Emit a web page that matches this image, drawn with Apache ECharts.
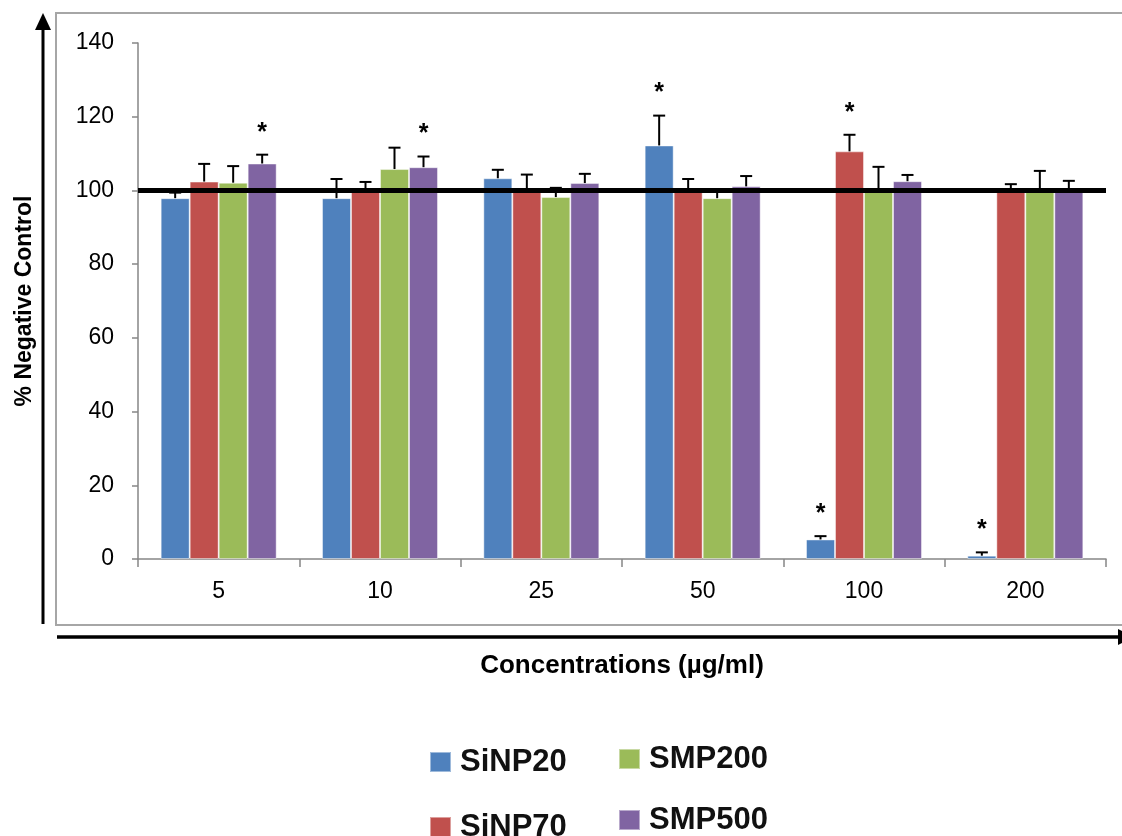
<!DOCTYPE html>
<html>
<head>
<meta charset="utf-8">
<script src="https://cdn.jsdelivr.net/npm/echarts@6/dist/echarts.min.js"></script>
<style>
  html, body { margin: 0; padding: 0; background: #fff; }
  #chart { width: 1122px; height: 836px; }
</style>
</head>
<body>
<div id="chart"></div>
<script>
// Concentrations tested (µg/ml)
const categories = ['5', '10', '25', '50', '100', '200'];
const seriesNames = ['SiNP20', 'SiNP70', 'SMP200', 'SMP500'];

// Mean response, % of negative control
const SiNP20 = [97.9, 97.9, 103.3, 112.2, 5.3, 0.9];
const SiNP70 = [102.4, 100.1, 100.3, 100.0, 110.6, 100.0];
const SMP200 = [102.1, 105.8, 98.2, 97.9, 100.1, 100.0];
const SMP500 = [107.3, 106.3, 102.0, 101.1, 102.5, 100.0];

// Standard deviation (upper whisker only)
const SiNP20Err = [1.5, 5.2, 2.3, 8.1, 0.9, 0.9];
const SiNP70Err = [4.8, 2.2, 4.0, 3.1, 4.5, 1.7];
const SMP200Err = [4.5, 5.8, 2.5, 2.0, 6.3, 5.3];
const SMP500Err = [2.4, 2.9, 2.5, 2.8, 1.7, 2.6];

// Statistically significant differences (marked with *)
const SiNP20Sig = [0, 0, 0, 1, 1, 1];
const SiNP70Sig = [0, 0, 0, 0, 1, 0];
const SMP200Sig = [0, 0, 0, 0, 0, 0];
const SMP500Sig = [1, 1, 0, 0, 0, 0];

// Y axis ticks
const yTicks = { min: 0, max: 140, interval: 20 };
const controlLevel = 100;

const values = [SiNP20, SiNP70, SMP200, SMP500];
const errors = [SiNP20Err, SiNP70Err, SMP200Err, SMP500Err];
const signif = [SiNP20Sig, SiNP70Sig, SMP200Sig, SMP500Sig];
const colors = ['#4F81BD', '#C0504D', '#9BBB59', '#8064A2'];

const BAR_W = 29;
const FONT = "'Liberation Sans', Arial, sans-serif";

const chart = echarts.init(document.getElementById('chart'), null, { renderer: 'canvas' });

const barSeries = seriesNames.map((name, i) => ({
  name: name,
  type: 'bar',
  data: values[i],
  barWidth: BAR_W,
  barGap: '0%',
  itemStyle: { color: colors[i], borderColor: 'rgba(255,255,255,0.45)', borderWidth: 1 },
  emphasis: { disabled: true },
  z: 2
}));

// Whiskers, caps and significance stars
const errSeries = seriesNames.map((name, i) => ({
  name: name + ' SD',
  type: 'custom',
  z: 4,
  silent: true,
  encode: { x: 0, y: 1 },
  data: categories.map((c, j) => [j, values[i][j], errors[i][j], signif[i][j]]),
  renderItem: function (params, api) {
    const cat = api.value(0);
    const x = api.coord([cat, 0])[0] + (i - 1.5) * BAR_W;
    const yBase = api.coord([cat, api.value(1)])[1];
    const yTop = api.coord([cat, api.value(1) + api.value(2)])[1];
    const children = [
      { type: 'line', shape: { x1: x, y1: yBase, x2: x, y2: yTop }, style: { stroke: '#000', lineWidth: 2 } },
      { type: 'line', shape: { x1: x - 6, y1: yTop, x2: x + 6, y2: yTop }, style: { stroke: '#000', lineWidth: 2 } }
    ];
    if (api.value(3)) {
      children.push({
        type: 'text', x: x, y: yTop - 22,
        style: { text: '*', fill: '#000', font: 'bold 25px ' + FONT, align: 'center', verticalAlign: 'middle' }
      });
    }
    return { type: 'group', children: children };
  },
  markLine: i === 3 ? {
    silent: true,
    symbol: ['none', 'none'],
    label: { show: false },
    lineStyle: { color: '#000', width: 5, type: 'solid' },
    data: [{ yAxis: controlLevel }],
    animation: false
  } : undefined
}));

// One legend block per entry so they sit in a 2 x 2 arrangement
const legendPos = [
  { left: 429, top: 746 },
  { left: 429, top: 811 },
  { left: 618, top: 743 },
  { left: 618, top: 804 }
];
const legends = seriesNames.map((name, i) => ({
  data: [name],
  left: legendPos[i].left,
  top: legendPos[i].top,
  orient: 'horizontal',
  padding: 0,
  icon: 'rect',
  itemWidth: 21,
  itemHeight: 20,
  selectedMode: false,
  textStyle: { fontFamily: FONT, fontSize: 31, fontWeight: 'bold', color: '#111', lineHeight: 32, padding: [0, 0, 0, 4] }
}));

const option = {
  animation: false,
  backgroundColor: '#fff',
  color: colors,
  textStyle: { fontFamily: FONT },
  legend: legends,
  grid: { left: 138, right: 16, top: 43, bottom: 277, containLabel: false },
  xAxis: {
    type: 'category',
    data: categories,
    name: 'Concentrations (µg/ml)',
    nameLocation: 'middle',
    nameGap: 94,
    nameTextStyle: { fontFamily: FONT, fontSize: 26, fontWeight: 'bold', color: '#000', verticalAlign: 'top' },
    axisLine: { lineStyle: { color: '#868686', width: 1.5 } },
    axisTick: { show: true, length: 8, alignWithLabel: false, lineStyle: { color: '#868686', width: 1.5 } },
    axisLabel: { fontFamily: FONT, fontSize: 23, color: '#000', margin: 21 },
    splitLine: { show: false }
  },
  yAxis: {
    type: 'value',
    min: yTicks.min,
    max: yTicks.max,
    interval: yTicks.interval,
    name: '% Negative Control',
    nameLocation: 'middle',
    nameGap: 102,
    nameRotate: 90,
    nameTextStyle: { fontFamily: FONT, fontSize: 23, fontWeight: 'bold', color: '#000' },
    axisLine: { show: true, lineStyle: { color: '#868686', width: 1.5 } },
    axisTick: { show: true, length: 6, lineStyle: { color: '#868686', width: 1.5 } },
    axisLabel: { fontFamily: FONT, fontSize: 23, color: '#000', margin: 24 },
    splitLine: { show: false }
  },
  graphic: [
    // plot frame
    { type: 'rect', z: -10, shape: { x: 56, y: 13, width: 1090, height: 612 },
      style: { fill: 'none', stroke: '#a6a6a6', lineWidth: 2 } },
    // vertical arrow
    { type: 'line', shape: { x1: 43, y1: 624, x2: 43, y2: 26 }, style: { stroke: '#000', lineWidth: 3 } },
    { type: 'polygon', shape: { points: [[35, 30], [51, 30], [43, 13]] }, style: { fill: '#000' } },
    // horizontal arrow
    { type: 'line', shape: { x1: 57, y1: 637, x2: 1120, y2: 637 }, style: { stroke: '#000', lineWidth: 3.5 } },
    { type: 'polygon', shape: { points: [[1118, 629], [1118, 645], [1134, 637]] }, style: { fill: '#000' } }
  ],
  series: barSeries.concat(errSeries)
};

chart.setOption(option);
</script>
</body>
</html>
